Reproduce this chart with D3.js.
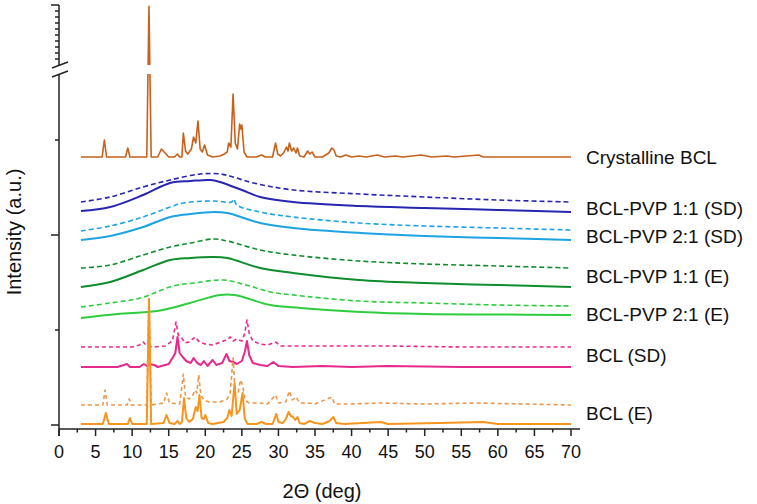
<!DOCTYPE html>
<html>
<head>
<meta charset="utf-8">
<script src="https://cdn.jsdelivr.net/npm/d3@7"></script>
<style>
    body { margin: 0; background: #fff; }
    text { font-family: "Liberation Sans", Arial, sans-serif; fill: #111; }
</style>
</head>
<body>
<svg width="757" height="504"></svg>
<script>
'use strict';

// x ticks (2 theta, deg)
var xTickValues = [0, 5, 10, 15, 20, 25, 30, 35, 40, 45, 50, 55, 60, 65, 70];

// sample names, top to bottom
var sampleLabels = ["Crystalline BCL", "BCL-PVP 1:1 (SD)", "BCL-PVP 2:1 (SD)",
    "BCL-PVP 1:1 (E)", "BCL-PVP 2:1 (E)", "BCL (SD)", "BCL (E)"];

// stacking offsets of each pattern (a.u.)
var offsets = {
    crystalline: 268,
    pvp11SDDash: 223, pvp11SD: 213,
    pvp21SDDash: 195, pvp21SD: 185,
    pvp11EDash: 157, pvp11E: 138,
    pvp21EDash: 119, pvp21E: 110,
    bclSDDash: 78, bclSD: 58,
    bclEDash: 20, bclE: 1
};

// diffractograms: [2theta, intensity above baseline]
var crystalline = [[3, 0], [5.9, 0], [6.2, 17], [6.5, 0], [9.1, 0], [9.4, 9], [9.7, 0], [12.0, 0], [12.3, 720], [12.6, 0],
    [13.5, 0], [14.0, 8], [14.5, 4], [15.0, 0], [15.8, 0], [16.2, 3], [16.5, 0], [16.8, 0], [17.0, 24], [17.3, 6], [17.6, 3],
    [18.1, 8], [18.4, 20], [18.7, 14], [19.0, 36], [19.3, 8], [19.6, 5], [19.9, 12], [20.3, 2], [21.0, 0], [22.0, 1], [22.6, 3],
    [23.0, 5], [23.2, 14], [23.5, 10], [23.8, 63], [24.1, 14], [24.4, 8], [24.7, 33], [24.85, 28], [25.0, 32], [25.3, 5],
    [25.7, 0], [27.0, 0], [27.7, 2], [28.2, 0], [29.2, 0], [29.6, 14], [29.9, 3], [30.3, 1], [30.7, 4], [31.1, 10], [31.3, 6],
    [31.5, 14], [31.8, 6], [32.1, 9], [32.4, 4], [32.6, 9], [32.9, 1], [33.5, 0], [34.0, 6], [34.3, 3], [34.6, 5], [35.0, 0],
    [36.0, 0], [36.9, 4], [37.3, 9], [37.6, 7], [37.9, 1], [38.5, 0], [39.2, 2], [40, 0], [41, 1], [42, 0], [43.5, 2], [44.5, 0],
    [46, 1], [47, 0], [49.5, 2], [51, 0], [53, 1], [54, 0], [57.4, 2], [58, 0], [70, 0]];

var pvp11SDDash = [[3, 0], [7, 5], [11.5, 15], [15.2, 22], [19.3, 28], [22.1, 28], [23.8, 25], [26.6, 19], [32.1, 12], [41.2, 8], [50, 5], [60, 2], [70, 0]];
var pvp11SD = [[3, 1], [7, 5], [11.5, 17], [15.2, 29], [18, 31], [20.7, 32], [22, 30], [25, 22], [27.5, 15], [32, 10], [41, 6], [50, 4], [60, 2], [70, 0]];
var pvp21SDDash = [[3, -1], [7, 4], [11.5, 13], [15.2, 23], [17, 27], [21.1, 29], [23.6, 28], [23.9, 31], [24.3, 25], [27.5, 18], [32, 13], [41, 7], [50, 4], [60, 2], [70, 0]];
var pvp21SD = [[3, 0], [7, 4], [11.5, 13], [15.2, 23], [18, 26], [21.1, 28], [23, 27], [27.5, 17], [32, 12], [41.2, 7], [50, 4], [60, 2], [70, 0]];
var pvp11EDash = [[3, 0], [7, 3], [11.5, 13], [15.2, 21], [18, 25], [21.1, 29], [23, 27], [27.5, 18], [32, 13], [41, 7], [50, 4], [60, 2], [70, 0]];
var pvp11E = [[3, 0], [7, 5], [11.5, 17], [15.2, 27], [18, 29], [20.9, 30], [23, 29], [27.5, 19], [32, 14], [41, 7], [50, 4], [60, 2], [70, 0]];
var pvp21EDash = [[3, -1], [7, 3], [11.1, 8], [15.6, 20], [18.5, 23], [22.5, 26], [25.6, 21], [28.9, 14], [32, 11], [41, 5], [50, 3], [60, 1], [70, 0]];
var pvp21E = [[3, -3], [8, 1], [13.4, 4], [17.9, 12], [22.0, 20], [24.0, 20], [28.9, 10], [33, 7], [41.2, 3], [50, 1], [60, 0.5], [70, 0]];

var bclSDDash = [[3, 0], [10, 0], [11.0, 2], [11.5, 5], [12.0, 1], [13, 0], [14.5, 1], [15.5, 6], [16.0, 25], [16.3, 12], [16.7, 10],
    [17.2, 4], [17.8, 5], [18.6, 10], [19.2, 5], [20, 3], [21, 2], [22.5, 6], [23.0, 7], [23.4, 10], [23.8, 6], [24.3, 8], [25.0, 6],
    [25.4, 14], [25.7, 27], [26.0, 14], [26.5, 6], [27.5, 3], [28.5, 2], [29.6, 5], [30.3, 1], [33, 1], [37, 1], [45, 1], [55, 0], [70, 0]];
var bclSD = [[3, 0], [8, 0], [9.3, 3], [9.7, 0], [11, 0], [11.6, 3], [12.0, 1], [12.4, 3], [13.0, 2], [13.5, 0], [15.0, 3], [15.6, 10],
    [15.9, 14], [16.2, 30], [16.5, 14], [16.9, 10], [17.4, 6], [18.0, 4], [18.4, 9], [18.9, 4], [19.4, 2], [19.8, 6], [20.3, 1], [21.0, 7],
    [21.5, 2], [22.3, 4], [22.9, 13], [23.3, 6], [23.8, 5], [24.3, 3], [25.0, 6], [25.4, 15], [25.7, 26], [26.0, 12], [26.5, 4], [27.5, 2],
    [28.5, 1], [29.3, 5], [30, 1], [32, 0], [36, 1], [40, 0], [45, 1], [55, 0], [70, 0]];

var bclEDash = [[3, 0], [6.0, 0], [6.3, 15], [6.6, 0], [9.3, 0], [9.6, 6], [9.9, 0], [12.0, 0], [12.3, 107], [12.6, 0], [14.3, 2],
    [14.7, 12], [15.1, 2], [16.5, 1], [17.0, 31], [17.3, 8], [17.8, 6], [18.3, 10], [18.6, 15], [18.85, 12], [19.1, 30], [19.4, 10],
    [19.8, 5], [20.5, 3], [22.0, 3], [23.0, 6], [23.4, 12], [23.8, 47], [24.1, 10], [24.5, 12], [24.8, 25], [25.1, 20], [25.4, 5],
    [26, 2], [27.5, 2], [28.5, 1], [29.6, 10], [30.0, 2], [31, 3], [31.5, 14], [31.9, 5], [32.4, 8], [32.9, 2], [34, 2], [35, 1],
    [37.3, 8], [37.7, 1], [40, 1], [44, 2], [50, 1], [57, 2], [70, 0]];
var bclE = [[3, 0], [6.0, 0], [6.4, 11], [6.8, 0], [9.4, 0], [9.7, 6], [10.0, 0], [12.0, 0], [12.3, 125], [12.6, 0], [14.3, 1],
    [14.7, 9], [15.1, 1], [15.8, 0], [16.2, 3], [16.5, 0], [16.8, 2], [17.1, 26], [17.4, 6], [17.8, 2], [18.3, 5], [18.7, 17],
    [18.95, 13], [19.2, 29], [19.5, 6], [19.8, 5], [20.0, 9], [20.4, 1], [21, 0], [22.5, 2], [23.0, 6], [23.3, 14], [23.6, 8],
    [24.0, 41], [24.3, 10], [24.7, 14], [25.1, 31], [25.4, 5], [25.8, 0], [27, 0], [27.7, 2], [28.3, 0], [29.2, 0], [29.7, 10],
    [30.0, 2], [30.6, 1], [31.0, 5], [31.4, 12], [31.7, 8], [32.0, 7], [32.3, 4], [32.6, 7], [32.9, 1], [33.5, 0], [34.3, 3],
    [35.0, 1], [36, 0], [37.0, 3], [37.5, 7], [37.9, 1], [39, 0], [44, 2], [45, 0], [52, 1], [58, 2], [60, 0], [70, 0]];

// line styles
var series = [
    {key: "crystalline", data: crystalline, color: "#c5611b", width: 1.6, dash: null, smooth: false},
    {key: "pvp11SDDash", data: pvp11SDDash, color: "#2626b0", width: 1.6, dash: "5,3", smooth: true},
    {key: "pvp11SD", data: pvp11SD, color: "#2626b0", width: 2, dash: null, smooth: true},
    {key: "pvp21SDDash", data: pvp21SDDash, color: "#1ea3e2", width: 1.6, dash: "5,3", smooth: true},
    {key: "pvp21SD", data: pvp21SD, color: "#1ea3e2", width: 2, dash: null, smooth: true},
    {key: "pvp11EDash", data: pvp11EDash, color: "#0f8c2e", width: 1.6, dash: "5,3", smooth: true},
    {key: "pvp11E", data: pvp11E, color: "#0f8c2e", width: 2, dash: null, smooth: true},
    {key: "pvp21EDash", data: pvp21EDash, color: "#2ecc3e", width: 1.6, dash: "5,3", smooth: true},
    {key: "pvp21E", data: pvp21E, color: "#2ecc3e", width: 2, dash: null, smooth: true},
    {key: "bclSDDash", data: bclSDDash, color: "#e8298c", width: 1.6, dash: "4,3", smooth: false},
    {key: "bclSD", data: bclSD, color: "#e8298c", width: 2, dash: null, smooth: false},
    {key: "bclEDash", data: bclEDash, color: "#ec974c", width: 1.6, dash: "4,3", smooth: false},
    {key: "bclE", data: bclE, color: "#f7941d", width: 2, dash: null, smooth: false}
];
var labelY = [157, 208, 236, 276, 314, 355, 413];

var svg = d3.select("svg");

// broken y axis: lower part and compressed upper part
var y = d3.scaleLinear()
    .domain([-4, 351, 400, 1000])
    .range([429, 74, 65, 5]);
var x = d3.scaleLinear()
    .domain([0, 70])
    .range([59, 571]);

var defs = svg.append("defs");
var clip = defs.append("clipPath").attr("id", "plotClip");
clip.append("rect").attr("x", 59).attr("y", 0).attr("width", 530).attr("height", 65);
clip.append("rect").attr("x", 59).attr("y", 74).attr("width", 530).attr("height", 360);

var plot = svg.append("g").attr("clip-path", "url(#plotClip)");

series.forEach(function (s) {
    var off = offsets[s.key];
    var line = d3.line()
        .x(function (d) { return x(d[0]); })
        .y(function (d) { return y(d[1] + off); })
        .curve(s.smooth ? d3.curveCatmullRom.alpha(0.5) : d3.curveLinear);
    plot.append("path")
        .datum(s.data)
        .attr("d", line)
        .attr("fill", "none")
        .attr("stroke", s.color)
        .attr("stroke-width", s.width)
        .attr("stroke-dasharray", s.dash)
        .attr("stroke-linejoin", "round");
});

// x axis
var xAxis = svg.append("g").attr("transform", "translate(0,429)");
xAxis.append("line")
    .attr("x1", 59).attr("x2", 580)
    .attr("stroke", "#222").attr("stroke-width", 1.5);
xAxis.selectAll(".minor")
    .data(xTickValues.slice(0, -1))
    .enter()
    .append("line")
    .attr("x1", function (d) { return x(d + 2.5); })
    .attr("x2", function (d) { return x(d + 2.5); })
    .attr("y1", 0).attr("y2", 3.5)
    .attr("stroke", "#222").attr("stroke-width", 1.5);
xAxis.selectAll(".major")
    .data(xTickValues)
    .enter()
    .append("line")
    .attr("x1", function (d) { return x(d); })
    .attr("x2", function (d) { return x(d); })
    .attr("y1", 0).attr("y2", 7)
    .attr("stroke", "#222").attr("stroke-width", 1.5);
xAxis.selectAll(".tickLabel")
    .data(xTickValues)
    .enter()
    .append("text")
    .attr("x", function (d) { return x(d); })
    .attr("y", 29)
    .attr("text-anchor", "middle")
    .style("font-size", "18px")
    .text(function (d) { return d; });

svg.append("text")
    .attr("x", 322)
    .attr("y", 498)
    .attr("text-anchor", "middle")
    .style("font-size", "20px")
    .text("2\u0398 (deg)");

// y axis, with break
var yAxis = svg.append("g");
yAxis.append("line")
    .attr("x1", 59).attr("x2", 59).attr("y1", 74).attr("y2", 436)
    .attr("stroke", "#222").attr("stroke-width", 1.5);
yAxis.append("line")
    .attr("x1", 59).attr("x2", 59).attr("y1", 5).attr("y2", 65)
    .attr("stroke", "#222").attr("stroke-width", 1.5);
yAxis.selectAll(".ytick")
    .data([0, 95, 190, 285])
    .enter()
    .append("line")
    .attr("x1", function (d, i) { return i % 2 === 0 ? 51 : 55; })
    .attr("x2", 59)
    .attr("y1", function (d) { return y(d); })
    .attr("y2", function (d) { return y(d); })
    .attr("stroke", "#222").attr("stroke-width", 1.5);
yAxis.selectAll(".ytickUpper")
    .data(d3.range(1000, 450, -60))
    .enter()
    .append("line")
    .attr("x1", function (d, i) { return i === 0 ? 51 : 55; })
    .attr("x2", 59)
    .attr("y1", function (d) { return y(d); })
    .attr("y2", function (d) { return y(d); })
    .attr("stroke", "#222").attr("stroke-width", 1.5);
[[68, 62], [77, 71]].forEach(function (p) {
    yAxis.append("line")
        .attr("x1", 52).attr("y1", p[0])
        .attr("x2", 68).attr("y2", p[1])
        .attr("stroke", "#222").attr("stroke-width", 1.5);
});

svg.append("text")
    .attr("transform", "translate(21,232) rotate(-90)")
    .attr("text-anchor", "middle")
    .style("font-size", "20px")
    .text("Intensity (a.u.)");

// sample labels
svg.selectAll(".sample")
    .data(sampleLabels)
    .enter()
    .append("text")
    .attr("class", "sample")
    .attr("x", 586)
    .attr("y", function (d, i) { return labelY[i]; })
    .attr("dy", "0.35em")
    .style("font-size", "19px")
    .text(function (d) { return d; });
</script>
</body>
</html>
